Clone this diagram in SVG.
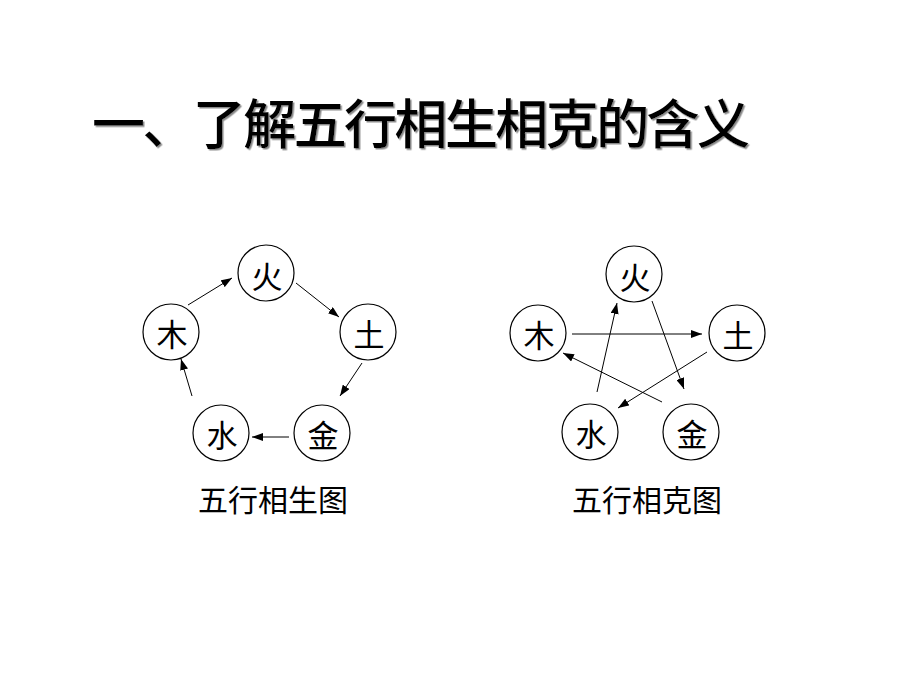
<svg xmlns="http://www.w3.org/2000/svg" width="920" height="690" viewBox="0 0 920 690">
  <style>
    .title { font-family: "Noto Sans CJK SC", "Liberation Sans", sans-serif; font-size: 53px; font-weight: 500; fill: #000; }
    .cap { font-family: "Noto Sans CJK SC", "Liberation Sans", sans-serif; font-size: 30px; fill: #000; }
    .lbl { font-family: "Noto Sans CJK SC", "Liberation Sans", sans-serif; font-size: 31px; fill: #000; text-anchor: middle; }
    .node circle { fill: #fff; stroke: #000; stroke-width: 1.2; }
    .conn line { stroke: #000; stroke-width: 1; marker-end: url(#arr); }
  </style>
  <defs>
    <marker id="arr" markerUnits="userSpaceOnUse" markerWidth="11" markerHeight="8" refX="11" refY="4" orient="auto">
      <path d="M0,0 L11,4 L0,8 z" fill="#000"/>
    </marker>
    <filter id="shadow" x="-5%" y="-20%" width="110%" height="140%">
      <feDropShadow dx="1.5" dy="1.5" stdDeviation="0.3" flood-color="#8a8a8a" flood-opacity="1"/>
    </filter>
  </defs>
  <rect width="920" height="690" fill="#fff"/>

  <text class="title" x="92" y="144" textLength="658" lengthAdjust="spacing" filter="url(#shadow)">一、了解五行相生相克的含义</text>

  <!-- Left diagram: 五行相生图 -->
  <g id="sheng-connectors" class="conn">
    <line x1="188" y1="305" x2="232" y2="278"/>
    <line x1="296" y1="283" x2="339" y2="317"/>
    <line x1="362" y1="363" x2="340" y2="396"/>
    <line x1="289" y1="437" x2="252" y2="437"/>
    <line x1="192" y1="396" x2="181" y2="359"/>
  </g>
  <g id="sheng-huo" class="node"><circle cx="266" cy="273" r="28"/><text class="lbl" x="267" y="288">火</text></g>
  <g id="sheng-mu" class="node"><circle cx="171" cy="332" r="28"/><text class="lbl" x="172" y="346">木</text></g>
  <g id="sheng-tu" class="node"><circle cx="368" cy="332" r="28"/><text class="lbl" x="369" y="346">土</text></g>
  <g id="sheng-shui" class="node"><circle cx="221" cy="433" r="28"/><text class="lbl" x="222" y="447">水</text></g>
  <g id="sheng-jin" class="node"><circle cx="322" cy="433" r="28"/><text class="lbl" x="323" y="447">金</text></g>
  <text id="sheng-caption" class="cap" x="198" y="511">五行相生图</text>

  <!-- Right diagram: 五行相克图 -->
  <g id="ke-connectors" class="conn">
    <line x1="572" y1="334" x2="702" y2="334"/>
    <line x1="652" y1="301" x2="684" y2="389"/>
    <line x1="707" y1="352" x2="618" y2="408"/>
    <line x1="597" y1="392" x2="617" y2="303"/>
    <line x1="662" y1="402" x2="563" y2="353"/>
  </g>
  <g id="ke-huo" class="node"><circle cx="634" cy="274" r="28"/><text class="lbl" x="635" y="289">火</text></g>
  <g id="ke-mu" class="node"><circle cx="538" cy="333" r="28"/><text class="lbl" x="539" y="347">木</text></g>
  <g id="ke-tu" class="node"><circle cx="737" cy="333" r="28"/><text class="lbl" x="738" y="347">土</text></g>
  <g id="ke-shui" class="node"><circle cx="590" cy="432" r="28"/><text class="lbl" x="591" y="446">水</text></g>
  <g id="ke-jin" class="node"><circle cx="691" cy="432" r="28"/><text class="lbl" x="692" y="446">金</text></g>
  <text id="ke-caption" class="cap" x="572" y="511">五行相克图</text>
</svg>
